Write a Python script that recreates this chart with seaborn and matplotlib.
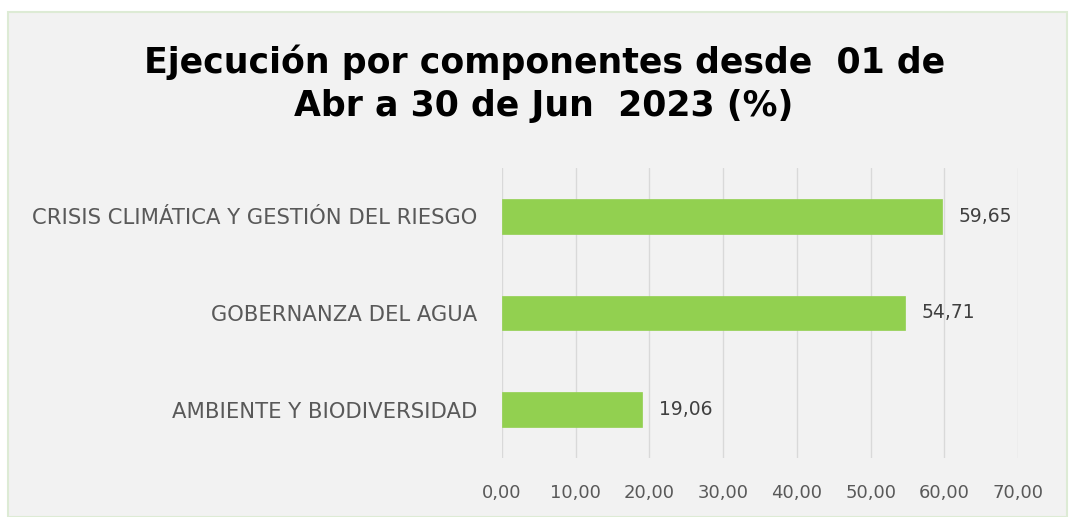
import matplotlib
matplotlib.use('Agg')
import matplotlib.pyplot as plt
import seaborn as sns
import pandas as pd
from matplotlib.patches import Rectangle
from matplotlib.ticker import FuncFormatter

componentes = ['CRISIS CLIMÁTICA Y GESTIÓN DEL RIESGO', 'GOBERNANZA DEL AGUA', 'AMBIENTE Y BIODIVERSIDAD']
ejecucion = [59.65, 54.71, 19.06]
titulo = 'Ejecución por componentes desde  01 de\nAbr a 30 de Jun  2023 (%)'

df = pd.DataFrame({'componente': componentes, 'ejecucion': ejecucion})

sns.set_style('white')
plt.rcParams['font.family'] = ['DejaVu Sans']

fig = plt.figure(figsize=(10.69, 5.17), dpi=100)
fig.patch.set_facecolor('white')
# fondo gris del área del gráfico con borde verde claro
fig.patches.append(Rectangle((8 / 1069, 0), 1 - 10 / 1069, 1 - 12 / 517, transform=fig.transFigure,
                             facecolor='#F2F2F2', edgecolor='#DDEBD5', linewidth=1.5, zorder=-10))

ax = fig.add_axes([502 / 1069, 1 - 458 / 517, (1018 - 502) / 1069, (458 - 168) / 517])
ax.set_facecolor('none')
sns.barplot(data=df, x='ejecucion', y='componente', color='#92D050', saturation=1,
            width=0.36, edgecolor='#92D050', linewidth=0.5, ax=ax, zorder=3)

ax.set_xlim(0, 70)
ax.set_ylim(2.5, -0.5)
ax.set_xticks(range(0, 71, 10))
ax.xaxis.set_major_formatter(FuncFormatter(lambda v, p: f'{v:.2f}'.replace('.', ',')))
ax.grid(axis='x', color='#D9D9D9', linewidth=1)
ax.grid(axis='y', visible=False)
for s in ax.spines.values():
    s.set_visible(False)
ax.tick_params(axis='x', length=0, pad=19, labelsize=13, labelcolor='#595959')
ax.tick_params(axis='y', length=0, pad=18, labelsize=15.2, labelcolor='#595959')
ax.set_xlabel('')
ax.set_ylabel('')

ax.bar_label(ax.containers[0], labels=[f'{v:.2f}'.replace('.', ',') for v in ejecucion],
             padding=12, fontsize=13.5, color='#404040')

fig.text(0.509, 1 - 84 / 517, titulo, ha='center', va='center', fontsize=25, fontweight='bold',
         color='black', linespacing=1.35)

fig.savefig('out.png', dpi=100)
